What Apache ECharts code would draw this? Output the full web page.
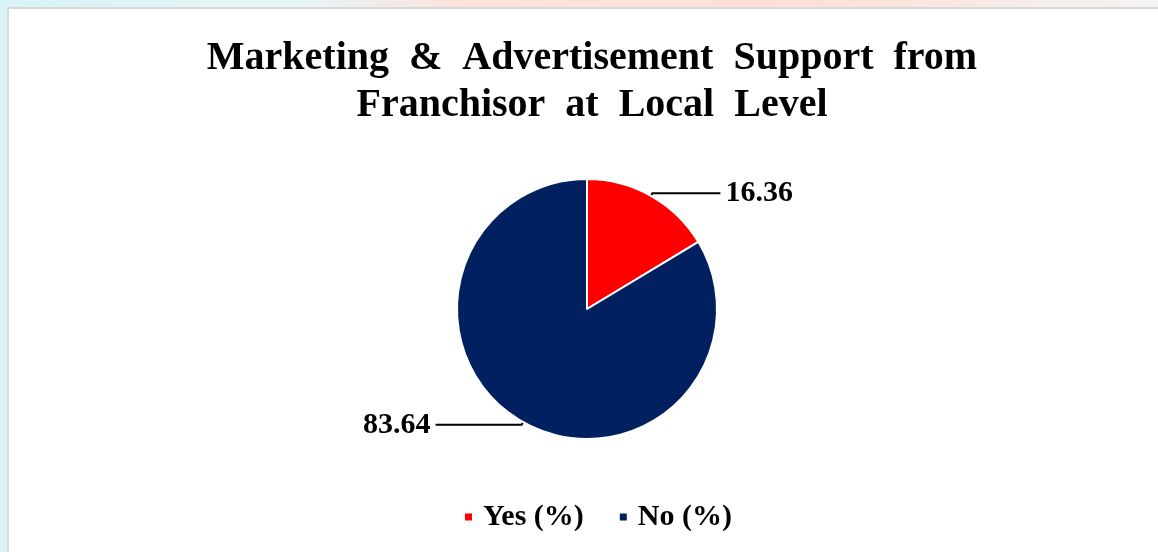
<!DOCTYPE html>
<html>
<head>
<meta charset="utf-8">
<script src="https://cdn.jsdelivr.net/npm/echarts@6/dist/echarts.min.js"></script>
<style>
    html, body { margin: 0; padding: 0; }
    body {
        width: 1158px; height: 552px; overflow: hidden;
        background: linear-gradient(90deg, #d8f3f7 0%, #e6f6f8 25%, #fbe3dc 40%, #fde0d6 70%, #f4f4f4 100%);
        position: relative;
    }
    #frame {
        position: absolute; left: 7px; top: 7px; width: 1160px; height: 560px;
        background: #fff; border: 2px solid #d9d9d9;
    }
    #chart { position: absolute; left: 0; top: 0; width: 1158px; height: 552px; }
</style>
</head>
<body>
<div id="frame"></div>
<div id="chart"></div>
<script>
// Marketing & Advertisement Support from Franchisor at Local Level
var categories = ["Yes (%)", "No (%)"];
var values = [16.36, 83.64];
var colors = ["#ff0000", "#002060"];
var leaderLen = [68, 86];

var pieData = categories.map(function(name, i) {
    return {
        name: name,
        value: values[i],
        itemStyle: { color: colors[i] },
        labelLine: { length2: leaderLen[i] }
    };
});

echarts.init(document.getElementById("chart")).setOption({
    title: {
        text: "Marketing  &  Advertisement  Support  from\nFranchisor  at  Local  Level",
        left: 587,
        textAlign: "center",
        top: 30,
        textStyle: {
            fontFamily: "Liberation Serif",
            fontWeight: "bold",
            fontSize: 40,
            lineHeight: 47,
            color: "#000"
        }
    },
    legend: {
        bottom: 15,
        left: 458,
        icon: "rect",
        itemWidth: 9,
        itemHeight: 9,
        itemGap: 34,
        textStyle: {
            fontFamily: "Liberation Serif",
            fontWeight: "bold",
            fontSize: 30,
            color: "#000",
            padding: [0, 0, 0, 5]
        },
        data: categories
    },
    series: [{
        type: "pie",
        center: [587, 309],
        radius: 130,
        startAngle: 90,
        clockwise: true,
        animation: false,
        itemStyle: { borderColor: "#fff", borderWidth: 2 },
        label: {
            show: true,
            formatter: function(p) { return p.value.toFixed(2); },
            fontFamily: "Liberation Serif",
            fontWeight: "bold",
            fontSize: 30,
            color: "#000"
        },
        labelLine: {
            show: true,
            length: 3,
            length2: 75,
            lineStyle: { color: "#000", width: 2 }
        },
        data: pieData
    }]
});
</script>
</body>
</html>
